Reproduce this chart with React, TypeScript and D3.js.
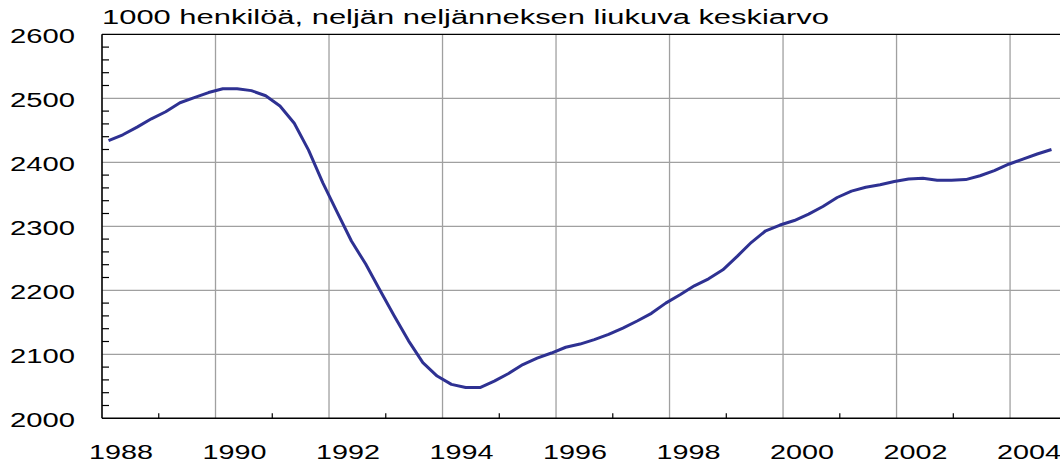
import React from "react";
import * as d3 from "d3";

const title = "1000 henkilöä, neljän neljänneksen liukuva keskiarvo";
const startYear = 1988;
const firstQuarter = 1;
// quarterly 4-quarter moving average, 1000 persons, 1988Q1..2004Q3
const values = [
  2434, 2443, 2455, 2468, 2479, 2493, 2501, 2509, 2515, 2515,
  2512, 2504, 2488, 2461, 2419, 2368, 2322, 2277, 2241, 2200,
  2160, 2121, 2087, 2066, 2053, 2048, 2048, 2058, 2070, 2084,
  2094, 2102, 2111, 2116, 2123, 2131, 2141, 2152, 2164, 2180,
  2193, 2207, 2218, 2232, 2253, 2275, 2293, 2302, 2309, 2319,
  2331, 2345, 2355, 2361, 2365, 2370, 2374, 2375, 2372, 2372,
  2373, 2379, 2387, 2397, 2405, 2413, 2420,
];
const yTicks = [2000, 2100, 2200, 2300, 2400, 2500, 2600];
const xTickLabels = [1988, 1990, 1992, 1994, 1996, 1998, 2000, 2002, 2004];
const minorYears = [1989, 1991, 1993, 1995, 1997, 1999, 2001, 2003];

const W = 1060;
const H = 466;
const left = 102;
const right = 1060;
const top = 34.3;
const bottom = 418.3;

export default function App() {
  const x = d3.scaleLinear().domain([1988, 2004.88]).range([left, right]);
  const y = d3.scaleLinear().domain([2000, 2600]).range([bottom, top]);
  const n = values.length;
  const xq = d3
    .scaleLinear()
    .domain([0, n - 1])
    .range([x(startYear + (firstQuarter - 1) / 4 + 0.115), x(2004.73)]);
  const line = d3
    .line<number>()
    .x((_, i) => xq(i))
    .y((v) => y(v));
  const minorY = d3.range(2020, 2600, 20).filter((v) => v % 100 !== 0);
  const font = "'Liberation Sans', Arial, Helvetica, sans-serif";
  const grid = "#a0a0a0";
  return (
    <svg
      width={W}
      height={H}
      style={{ position: "absolute", left: 0, top: 0, background: "#fff" }}
      fontFamily={font}
    >
      <rect x={0} y={0} width={W} height={H} fill="#fff" />
      {yTicks.slice(1, -1).map((t) => (
        <line key={"gy" + t} x1={left} x2={right} y1={y(t)} y2={y(t)} stroke={grid} strokeWidth={1.2} />
      ))}
      {xTickLabels.slice(1).map((t) => (
        <line key={"gx" + t} x1={x(t)} x2={x(t)} y1={top} y2={bottom} stroke={grid} strokeWidth={1.3} />
      ))}
      {minorY.map((t) => (
        <line key={"my" + t} x1={left} x2={left + 7} y1={y(t)} y2={y(t)} stroke="#000" strokeWidth={1.2} />
      ))}
      {minorYears.map((t) => (
        <line key={"mx" + t} x1={x(t)} x2={x(t)} y1={bottom} y2={bottom - 5} stroke="#000" strokeWidth={1.2} />
      ))}
      <line x1={left} x2={right} y1={top} y2={top} stroke="#000" strokeWidth={1.3} />
      <line x1={left} x2={right} y1={bottom} y2={bottom} stroke="#000" strokeWidth={1.6} />
      <line x1={left} x2={left} y1={top} y2={bottom} stroke="#000" strokeWidth={1.6} />
      <path d={line(values) || ""} fill="none" stroke="#2e3192" strokeWidth={3} strokeLinejoin="round" />
      {yTicks.map((t) => (
        <text
          key={"yl" + t}
          x={10}
          y={y(t) + 9}
          fontSize={19.5}
          textLength={65}
          lengthAdjust="spacingAndGlyphs"
          fill="#000"
        >
          {t}
        </text>
      ))}
      {xTickLabels.map((t) => (
        <text
          key={"xl" + t}
          x={x(t) - 13}
          y={459}
          fontSize={19.5}
          textLength={64}
          lengthAdjust="spacingAndGlyphs"
          fill="#000"
        >
          {t}
        </text>
      ))}
      <text x={102} y={24} fontSize={19.5} textLength={727} lengthAdjust="spacingAndGlyphs" fill="#000">
        {title}
      </text>
    </svg>
  );
}
